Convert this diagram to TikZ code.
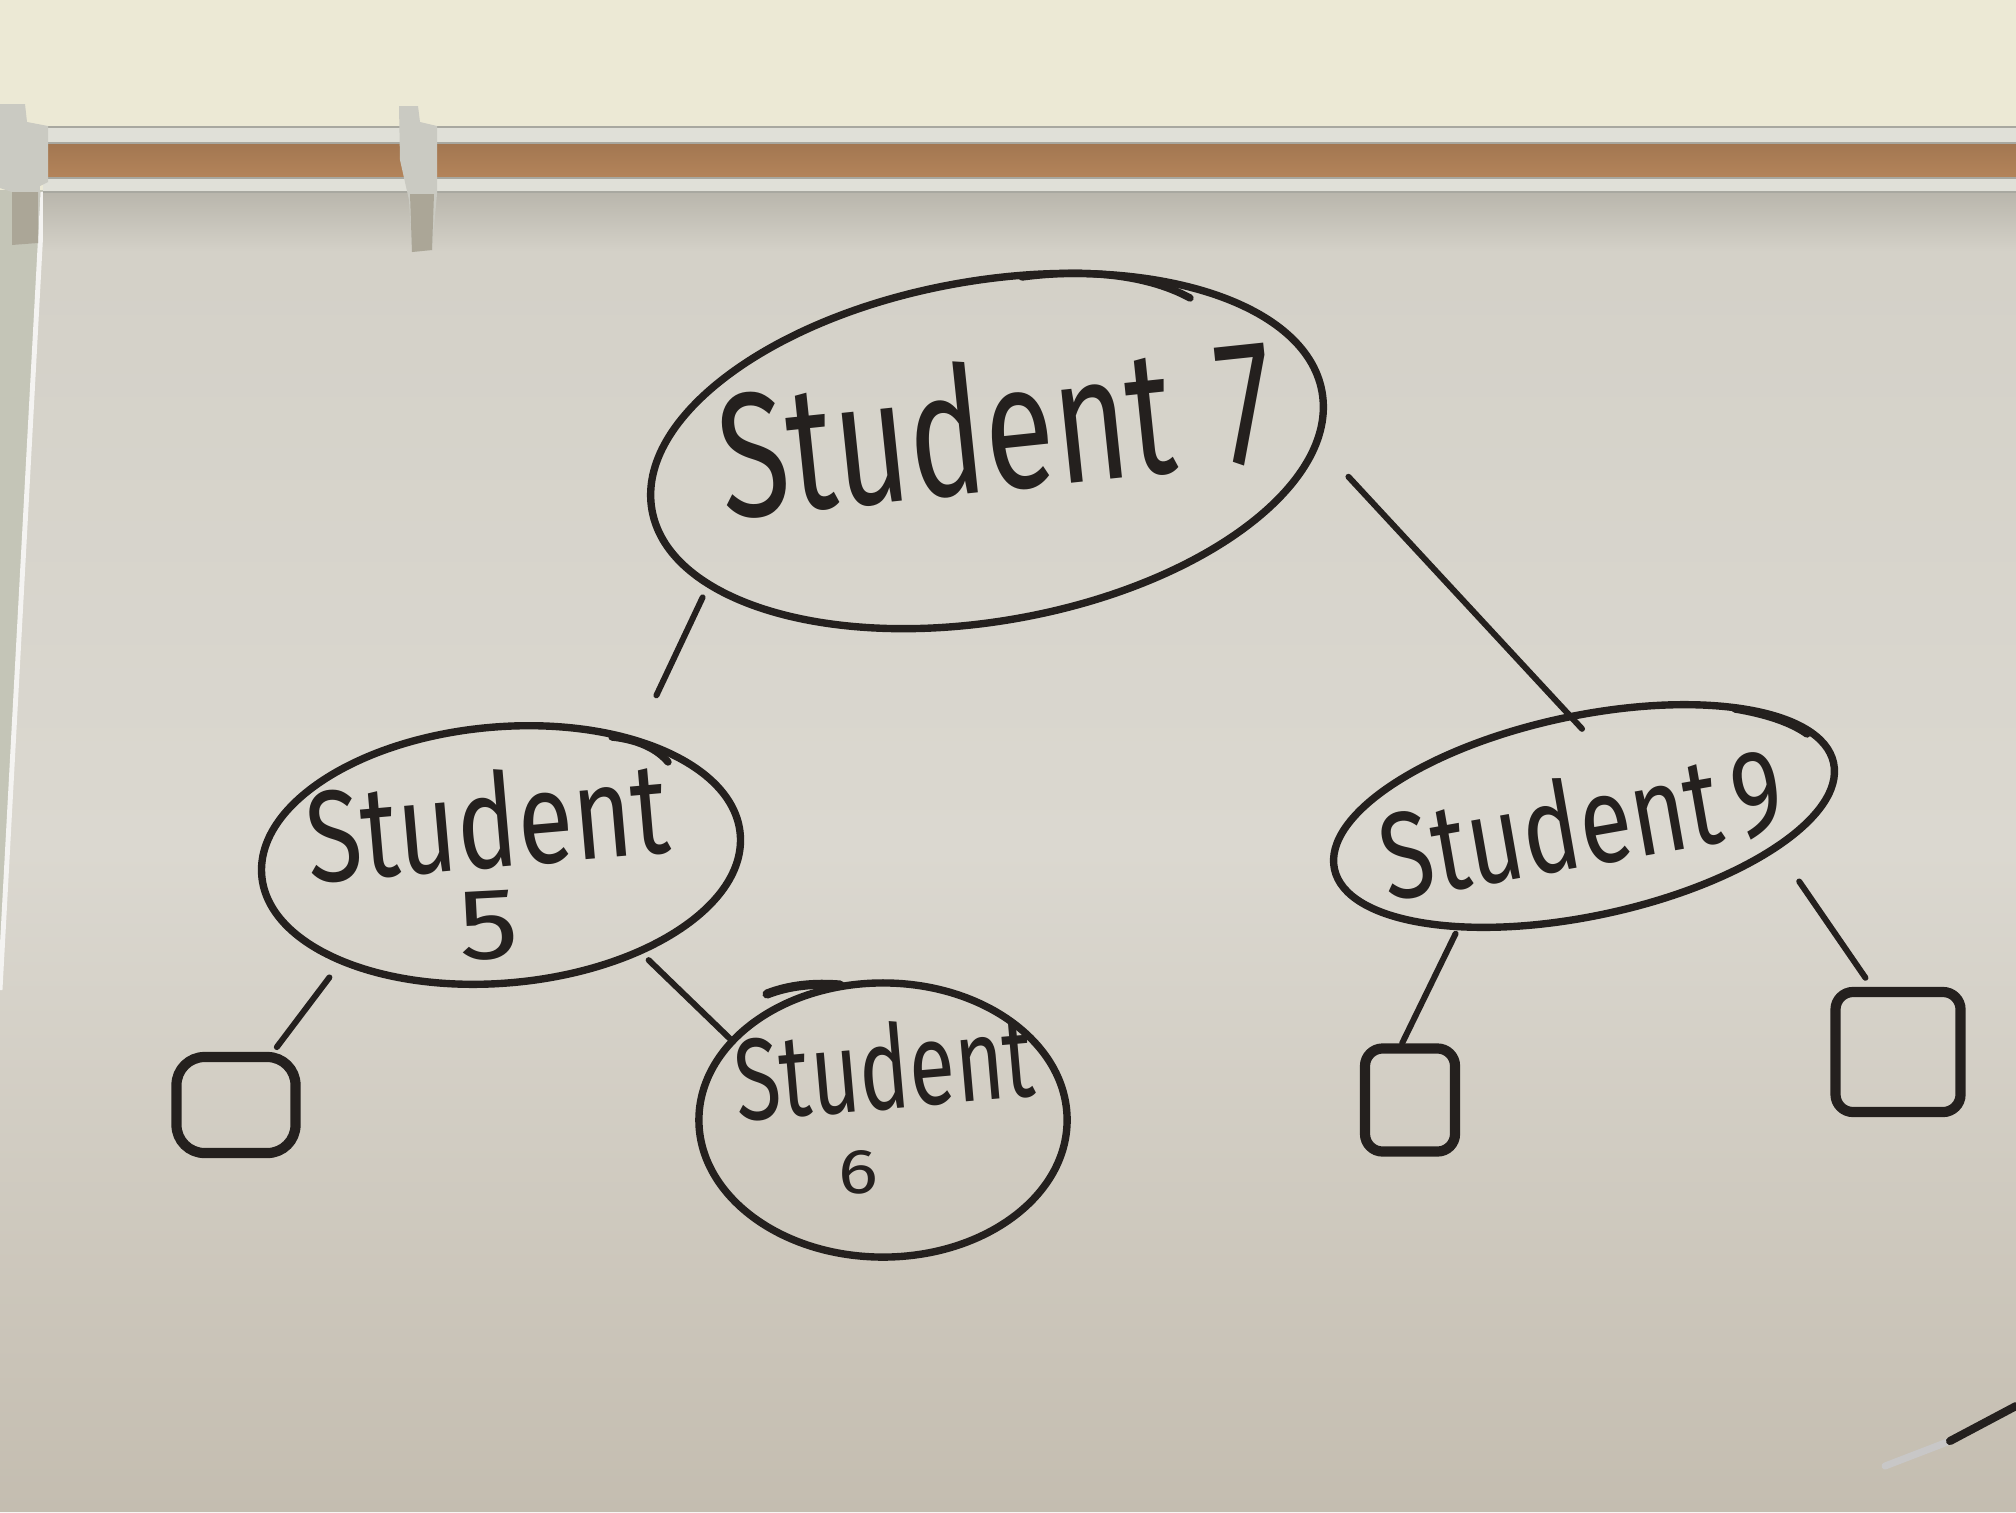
\documentclass[tikz,border=0pt]{standalone}
\usepackage{fontspec}
\newfontfamily\handA[FakeStretch=0.72]{Fira Sans}
\newfontfamily\handB[FakeStretch=0.78]{Fira Sans}
\newfontfamily\handC[FakeStretch=1.18]{Fira Sans}
\usetikzlibrary{shapes.geometric}
\definecolor{ink}{HTML}{24201E}
\definecolor{wall}{HTML}{ECE9D5}
\definecolor{sidewall}{HTML}{C4C5B7}
\definecolor{boardtop}{HTML}{D3D0C7}
\definecolor{boardmid}{HTML}{DBD8D0}
\definecolor{boardbot}{HTML}{C4BDB0}
\definecolor{railshadow}{HTML}{B8B5AB}
\definecolor{alum}{HTML}{E0E0D8}
\definecolor{alumdark}{HTML}{A8A8A0}
\definecolor{cork}{HTML}{B4845A}
\definecolor{clipcol}{HTML}{CACAC2}
\definecolor{clipdark}{HTML}{ABA697}
\begin{document}
\begin{tikzpicture}[x=0.01cm,y=-0.01cm,
  bubble/.style={ellipse, draw=ink, line width=2.1pt, inner sep=0pt},
  leaf/.style={rectangle, draw=ink, line width=2.9pt, rounded corners=5pt, inner sep=0pt},
  edge/.style={draw=ink, line width=1.7pt, line cap=round},
  stroke/.style={draw=ink, line width=2.1pt, line cap=round},
  hand/.style={text=ink, inner sep=0pt}]
\useasboundingbox (0,0) rectangle (2016,1512);
% ---- background: wall, board, rail
\fill[wall] (0,0) rectangle (2016,1512);
\fill[sidewall] (0,190) -- (43,190) -- (0,990) -- cycle;
\shade[top color=boardtop, bottom color=boardbot, middle color=boardmid]
  (43,190) -- (2016,190) -- (2016,1512) -- (0,1512) -- (0,990) -- cycle;
\draw[white!70!boardmid, line width=1.4pt] (43,192) -- (0,990);
\shade[top color=railshadow, bottom color=boardtop] (43,190) rectangle (2016,250);
\fill[alum] (43,127) rectangle (2016,143);
\shade[top color=cork!90!black, bottom color=cork] (43,143) rectangle (2016,178);
\fill[alum] (43,178) rectangle (2016,192);
\draw[alumdark, line width=0.5pt] (43,127) -- (2016,127) (43,143) -- (2016,143)
  (43,178) -- (2016,178) (43,192) -- (2016,192);
% clips
\fill[clipcol] (0,104) -- (25,104) -- (27,122) -- (48,126) -- (48,182) -- (40,186)
  -- (38,243) -- (12,245) -- (12,192) -- (0,188) -- cycle;
\fill[clipdark] (12,192) -- (38,192) -- (38,243) -- (12,245) -- cycle;
\fill[clipcol] (399,106) -- (418,106) -- (420,122) -- (437,126) -- (437,194)
  -- (432,250) -- (412,252) -- (409,200) -- (400,160) -- cycle;
\fill[clipdark] (410,194) -- (434,194) -- (432,250) -- (412,252) -- cycle;
% ---- tree
\node[bubble, minimum width=6.8cm, minimum height=3.4cm, rotate=10] (root) at (987,451) {};
\node[bubble, minimum width=4.8cm, minimum height=2.56cm, rotate=5] (s5) at (501,855) {};
\node[bubble, minimum width=3.68cm, minimum height=2.74cm] (s6) at (883,1120) {};
\node[bubble, minimum width=5.1cm, minimum height=2.0cm, rotate=12] (s9) at (1584,816) {};
\node[leaf, minimum width=1.19cm, minimum height=0.96cm, rounded corners=8pt] (leafA) at (236,1105) {};
\node[leaf, minimum width=0.90cm, minimum height=1.03cm] (leafB) at (1410,1100) {};
\node[leaf, minimum width=1.25cm, minimum height=1.20cm] (leafC) at (1898,1052) {};
% overlapping marker ends
\draw[stroke] (1022,277) .. controls (1090,268) and (1150,276) .. (1190,298);
\draw[stroke] (612,737) .. controls (640,740) and (658,750) .. (668,762);
\draw[stroke, line width=2.6pt] (767,994) .. controls (790,985) and (815,983) .. (840,985);
\draw[stroke] (1735,709) .. controls (1765,714) and (1790,722) .. (1807,734);
% labels
\node[hand, rotate=6] (lab7) at (996,425)
  {\handA\fontsize{50.4}{56}\selectfont Student\hspace{0.25em}7};
\node[hand, rotate=5] (lab5a) at (487,820)
  {\handB\fontsize{37}{42}\selectfont Student};
\node[hand, rotate=3] (lab5b) at (489,926)
  {\handC\fontsize{28.8}{32}\selectfont 5};
\node[hand, rotate=5] (lab6a) at (884,1066)
  {\handA\fontsize{33.1}{37}\selectfont Student};
\node[hand] (lab6b) at (858,1172)
  {\handC\fontsize{18}{20}\selectfont 6};
\node[hand, rotate=10] (lab9) at (1581,822)
  {\handB\fontsize{35}{39}\selectfont Student\hspace{0.1em}9};
% connectors
\draw[edge, shorten <=0.11cm, shorten >=0.46cm] (root.196) -- (s5.36);
\draw[edge, shorten <=0.43cm, shorten >=-0.21cm] (root.-9) -- (s9.87);
\draw[edge, shorten <=0.17cm, shorten >=0.06cm] (s5.209) -- (leafA.55);
\draw[edge, shorten <=0.09cm] (s5.-40) -- (s6.152);
\draw[edge, shorten <=0.04cm] (s9.210) -- (leafB.98);
\draw[edge, shorten <=0.38cm, shorten >=0.11cm] (s9.-22) -- (leafC.112);
% stray marker stroke at the lower right
\draw[ink!25, line width=2pt, line cap=round] (1885,1466) -- (1950,1441);
\draw[stroke, line width=2.3pt] (1950,1441) -- (2016,1406);
\end{tikzpicture}
\end{document}
